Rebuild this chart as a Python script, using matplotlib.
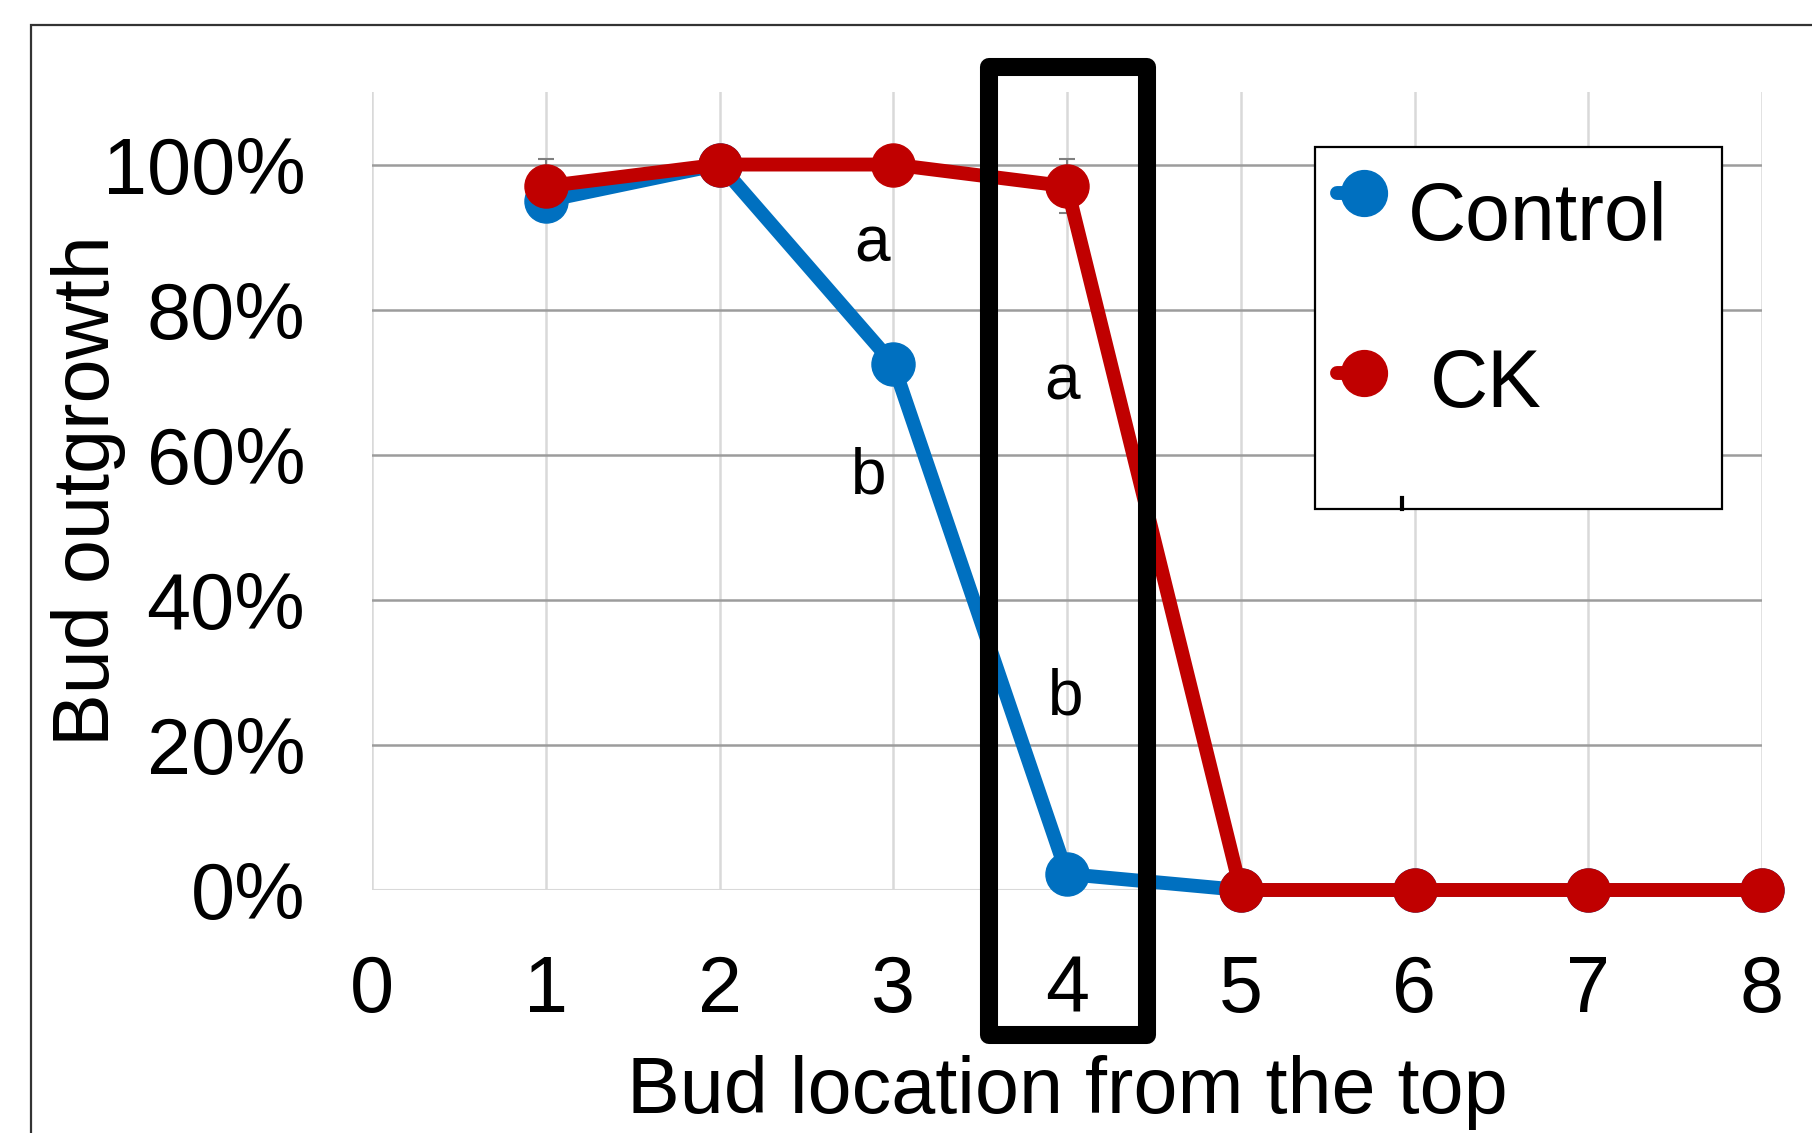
import matplotlib.pyplot as plt
from matplotlib.patches import Rectangle
from matplotlib.lines import Line2D

plt.rcParams['font.family'] = ['Liberation Sans', 'DejaVu Sans']

# data
positions = [1, 2, 3, 4, 5, 6, 7, 8]
control = [0.95, 1.00, 0.725, 0.022, 0.0, 0.0, 0.0, 0.0]
ck = [0.97, 1.00, 1.00, 0.97, 0.0, 0.0, 0.0, 0.0]
ck_err = [0.037, 0.0, 0.0, 0.037, 0.0, 0.0, 0.0, 0.0]
letters = ['a', 'b', 'a', 'b']
letter_x = [2.88, 2.86, 3.97, 3.99]
letter_y = [0.89, 0.57, 0.70, 0.265]
xticks = list(range(0, 9))
yticks = [0, 0.2, 0.4, 0.6, 0.8, 1.0]

BLUE = '#0070C0'
RED = '#C00000'
W, H = 1812, 1133


def fx(x):
    return x / W


def fy(y):
    return 1 - y / H


fig = plt.figure(figsize=(18.12, 11.33), dpi=100)
ax = fig.add_axes([fx(372), fy(890), fx(1762) - fx(372), fy(92) - fy(890)])

# outer frame
fig.add_artist(Rectangle((fx(31), -0.2), 1.2, fy(25) + 0.2, transform=fig.transFigure,
                         fill=False, edgecolor='#333333', lw=1.6))

ax.set_xlim(0, 8)
ax.set_ylim(0, 1.1)
for s in ax.spines.values():
    s.set_visible(False)
ax.set_xticks(xticks)
ax.set_yticks(yticks)
ax.set_yticklabels([f'{int(round(v * 100))}%' for v in yticks])
ax.tick_params(length=0, labelsize=57)
ax.tick_params(axis='y', pad=48)
ax.tick_params(axis='x', pad=46)

# grid
for x in xticks:
    ax.axvline(x, color='#D9D9D9', lw=1.8, zorder=0)
for y in yticks[1:]:
    ax.plot([0, 8], [y, y], color='#9C9C9C', lw=1.8, zorder=0)
ax.plot([0, 8], [0, 0], color='#D9D9D9', lw=2.2, zorder=0)

ax.set_xlabel('Bud location from the top', fontsize=57, labelpad=19)
ax.set_ylabel('Bud outgrowth', fontsize=57)
ax.yaxis.set_label_coords(-0.177, 0.5)

ax.errorbar(positions, ck, yerr=ck_err, fmt='none', ecolor='#7F7F7F', elinewidth=1.5,
            capsize=6, capthick=1.5, zorder=1)
ax.plot(positions, control, color=BLUE, lw=10, marker='o', markersize=31,
        solid_joinstyle='round', clip_on=False, zorder=2)
ax.plot(positions, ck, color=RED, lw=10, marker='o', markersize=31,
        solid_joinstyle='round', clip_on=False, zorder=3)

for t, x, y in zip(letters, letter_x, letter_y):
    ax.text(x, y, t, fontsize=46, ha='center', va='center', zorder=4)

# highlight box around position 4
ax.add_patch(Rectangle((3.55, -0.2), 0.91, 1.335, fill=False, edgecolor='black',
                       lw=13, joinstyle='round', clip_on=False, zorder=5))

# legend
fig.add_artist(Rectangle((fx(1315), fy(509)), fx(1722) - fx(1315), fy(147) - fy(509),
                         transform=fig.transFigure, facecolor='white',
                         edgecolor='black', lw=1.6, zorder=6))
for (ym, yb, lab, col, xt) in [(193, 240, 'Control', BLUE, 1408), (373, 407, 'CK', RED, 1430)]:
    fig.add_artist(Line2D([fx(1337), fx(1364)], [fy(ym), fy(ym)], transform=fig.transFigure,
                          color=col, lw=10, solid_capstyle='round', zorder=7))
    fig.add_artist(Line2D([fx(1364)], [fy(ym)], transform=fig.transFigure, marker='o',
                          markersize=33, color=col, zorder=7))
    fig.text(fx(xt), fy(yb), lab, fontsize=58, ha='left', va='baseline', zorder=8)
fig.add_artist(Line2D([fx(1402), fx(1402)], [fy(498), fy(509)], transform=fig.transFigure,
                      color='black', lw=3, zorder=7))

fig.savefig('out.png', dpi=100)
